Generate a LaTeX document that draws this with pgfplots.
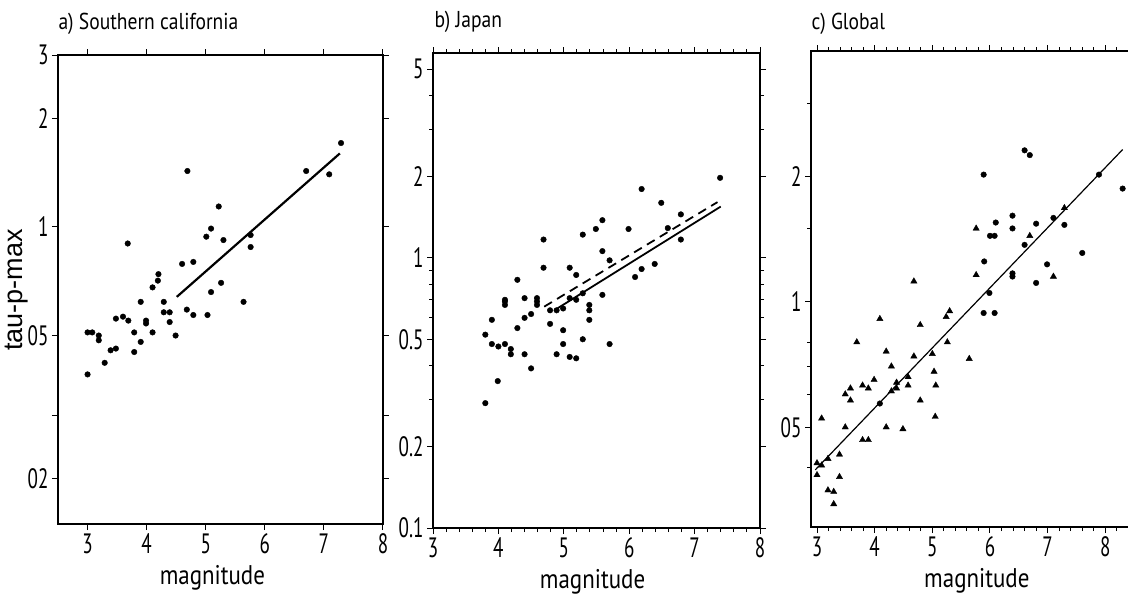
\documentclass[border=0pt]{standalone}
\usepackage{fontspec}
\setmainfont{PT Sans}[FakeStretch=0.85]
\newfontfamily\tickf{PT Sans}[FakeStretch=0.68]
\newfontfamily\arialf{Liberation Sans}
\usepackage{pgfplots}
\pgfplotsset{compat=1.18}
\pgfplotsset{
  mypanel/.style={
    scale only axis, axis line style={line width=2.6pt},
    tick align=outside, tick style={black, line width=1pt},
    major tick length=6pt, minor tick length=4pt,
    /pgf/number format/assume math mode=true,
    xtick={3,4,5,6,7,8},
    xticklabel style={font=\tickf\fontsize{28}{28}\selectfont},
    yticklabel style={font=\tickf\fontsize{28}{28}\selectfont},
    xlabel={magnitude},
    xlabel style={font=\fontsize{27}{27}\selectfont, anchor=north, yshift=-38pt},
    clip=false
  },
  mydots/.style={only marks, mark=*, mark size=2.8pt, black},
  mytris/.style={only marks, mark=triangle*, mark size=3.6pt, black}
}
\begin{document}
\begin{tikzpicture}
\useasboundingbox (0pt,0pt) rectangle (1128pt,-602pt);

\node[anchor=base west, font=\fontsize{23}{23}\selectfont] at (55pt,-30pt) {a) Southern california};
\node[anchor=base west, font=\fontsize{23}{23}\selectfont] at (431pt,-28pt) {b) Japan};
\node[anchor=base west, font=\fontsize{23}{23}\selectfont] at (808pt,-30pt) {c) Global};
\node[rotate=90, font=\arialf\fontsize{27}{27}\selectfont] at (17pt,-290pt) {tau-p-max};

% Panel a
\begin{axis}[ymode=log, mypanel, at={(58pt,-55pt)}, anchor=north west, width=325pt, height=469pt,
  xmin=2.5, xmax=8, ymin=0.15, ymax=3,
  xlabel style={at={(axis description cs:0.475,0)}},
  ytick={0.2,0.3,0.5,1,2,3}, yticklabels={02,,05,1,2,3}]
\addplot[mydots] table {
3.68 0.90
4.69 1.43
5.22 1.14
5.09 0.99
5.01 0.94
5.30 0.92
5.76 0.95
5.76 0.88
4.60 0.79
4.79 0.80
4.20 0.74
4.19 0.71
4.10 0.68
5.26 0.70
5.09 0.66
6.70 1.43
7.09 1.40
7.29 1.71
3.00 0.39
3.00 0.51
3.08 0.51
3.19 0.50
3.19 0.485
3.29 0.42
3.39 0.455
3.48 0.46
3.48 0.557
3.60 0.564
3.69 0.55
3.79 0.51
3.79 0.45
3.90 0.48
3.90 0.62
3.99 0.55
3.99 0.54
4.10 0.51
4.29 0.62
4.29 0.58
4.39 0.58
4.39 0.545
4.49 0.50
4.68 0.59
4.79 0.57
5.03 0.57
5.64 0.62
};
\addplot[black, line width=2.2pt] coordinates {(4.51,0.64) (7.27,1.60)};
\end{axis}

% Panel b
\begin{axis}[ymode=log, mypanel, at={(433pt,-53pt)}, anchor=north west, width=327pt, height=475pt,
  xmin=3, xmax=8, ymin=0.1, ymax=5.74,
  xlabel style={at={(axis description cs:0.488,0)}},
  ytick={0.1,0.2,0.5,1,2,5}, yticklabels={0.1,0.2,0.5,1,2,5},
  minor xtick={3.2,3.4,...,7.8},
  minor ytick={0.3,0.4,0.6,0.7,0.8,0.9,3,4}]
\addplot[mydots] table {
7.39 1.98
6.19 1.80
6.49 1.60
6.79 1.45
6.79 1.17
6.59 1.29
5.99 1.28
5.59 1.38
5.49 1.28
5.29 1.22
4.69 1.17
4.69 0.92
4.29 0.83
5.09 0.92
5.19 0.865
5.59 1.06
5.70 0.98
6.19 0.91
6.09 0.85
6.39 0.95
5.59 0.73
4.10 0.70
4.40 0.71
4.59 0.71
5.09 0.71
5.29 0.74
3.80 0.29
3.80 0.52
3.90 0.59
3.90 0.48
3.99 0.35
4.00 0.47
4.10 0.48
4.10 0.69
4.10 0.67
4.19 0.46
4.19 0.44
4.29 0.55
4.40 0.60
4.40 0.44
4.50 0.39
4.50 0.62
4.59 0.69
4.59 0.67
4.79 0.64
4.79 0.57
4.89 0.64
4.89 0.44
4.99 0.65
4.99 0.54
4.99 0.48
5.09 0.43
5.19 0.425
5.19 0.70
5.29 0.50
5.39 0.67
5.39 0.64
5.39 0.59
5.70 0.48
};
\addplot[black, line width=1.8pt] coordinates {(4.9,0.65) (7.4,1.55)};
\addplot[black, line width=1.8pt, dash pattern=on 9pt off 6pt] coordinates {(4.7,0.66) (7.35,1.61)};
\end{axis}

% Panel c
\begin{axis}[ymode=log, mypanel, at={(811pt,-51pt)}, anchor=north west, width=322pt, height=476pt,
  xmin=2.896, xmax=8.48, ymin=0.288, ymax=4.0,
  xlabel style={at={(axis description cs:0.515,0)}},
  ytick={0.5,1,2}, yticklabels={05,1,2},
  minor xtick={3.2,3.4,...,8.4},
  minor ytick={0.4,0.6,0.7,0.8,1.5,3}]
\addplot[mydots] table {
5.89 2.02
6.60 2.31
6.69 2.25
6.00 1.44
6.08 1.44
6.10 1.55
6.39 1.61
6.39 1.50
6.80 1.54
5.90 1.25
6.39 1.17
6.39 1.15
6.60 1.37
6.80 1.11
6.99 1.23
7.10 1.59
7.29 1.53
7.60 1.31
7.89 2.02
8.30 1.87
5.99 1.05
5.89 0.94
6.08 0.94
4.09 0.57
};
\addplot[mytris] table {
4.68 1.12
5.76 1.50
5.76 1.16
6.69 1.44
7.10 1.15
7.29 1.68
4.09 0.91
4.79 0.88
5.24 0.92
5.30 0.95
3.69 0.80
5.26 0.80
4.20 0.76
4.68 0.74
5.00 0.75
5.64 0.73
4.29 0.70
5.03 0.68
3.99 0.65
3.79 0.63
3.89 0.62
3.58 0.62
3.49 0.60
3.58 0.58
4.38 0.64
4.38 0.62
4.29 0.61
4.58 0.66
4.58 0.63
5.06 0.63
4.79 0.58
5.05 0.53
3.08 0.525
3.49 0.50
4.20 0.50
4.49 0.495
3.79 0.466
3.89 0.466
3.39 0.43
3.19 0.42
3.00 0.41
3.08 0.405
3.00 0.384
3.39 0.38
3.19 0.353
3.29 0.35
3.29 0.327
};
\addplot[black, line width=1.2pt] coordinates {(2.97,0.395) (8.30,2.32)};
\end{axis}
\end{tikzpicture}
\end{document}
